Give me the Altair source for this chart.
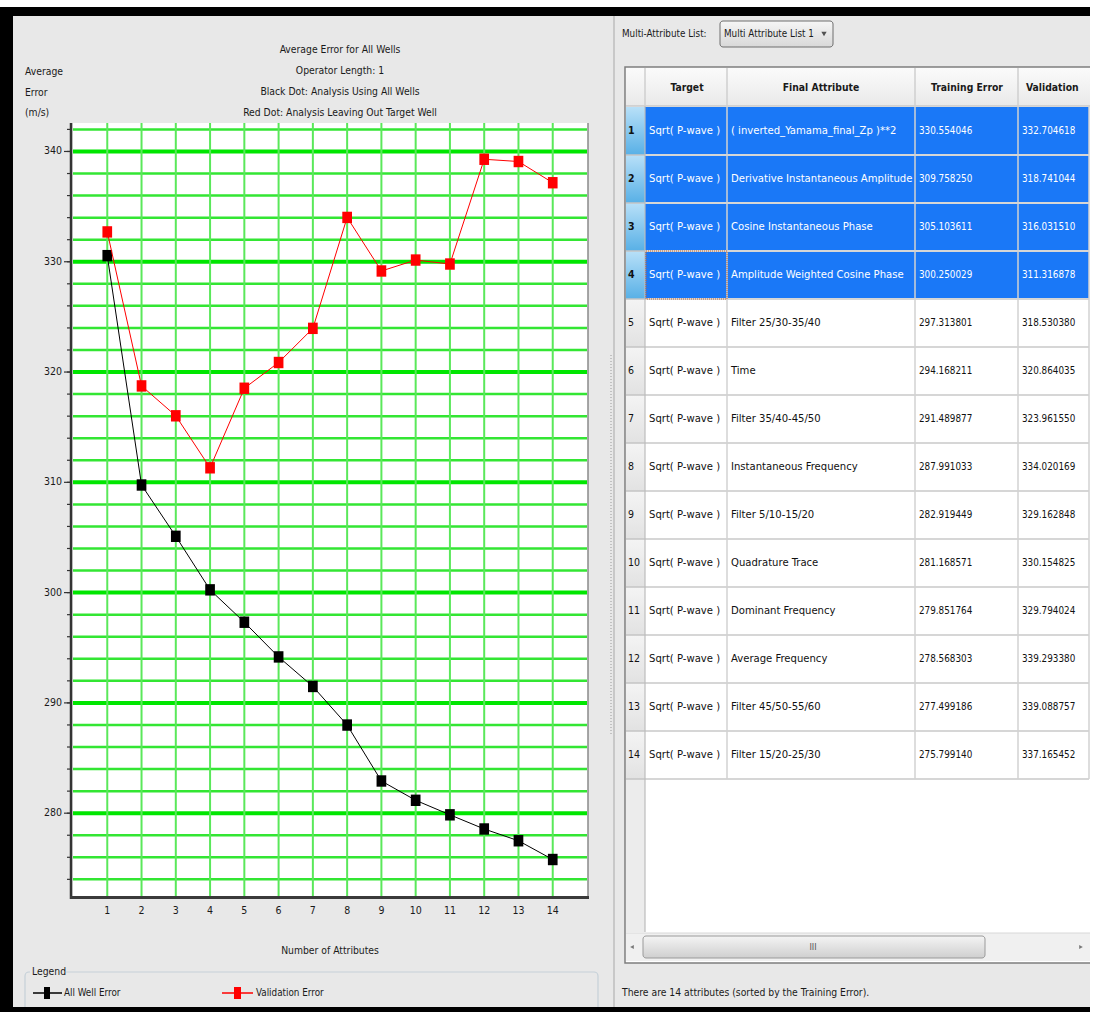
import altair as alt
import pandas as pd

# ---- data -------------------------------------------------------------
n_attributes = list(range(1, 15))
training_error = [330.554046, 309.758250, 305.103611, 300.250029, 297.313801,
                  294.168211, 291.489877, 287.991033, 282.919449, 281.168571,
                  279.851764, 278.568303, 277.499186, 275.799140]
validation_error = [332.704618, 318.741044, 316.031510, 311.316878, 318.530380,
                    320.864035, 323.961550, 334.020169, 329.162848, 330.154825,
                    329.794024, 339.293380, 339.088757, 337.165452]
target_names = ["Sqrt( P-wave )"] * 14
final_attributes = ["( inverted_Yamama_final_Zp )**2", "Derivative Instantaneous Amplitude",
                    "Cosine Instantaneous Phase", "Amplitude Weighted Cosine Phase",
                    "Filter 25/30-35/40", "Time", "Filter 35/40-45/50",
                    "Instantaneous Frequency", "Filter 5/10-15/20", "Quadrature Trace",
                    "Dominant Frequency", "Average Frequency", "Filter 45/50-55/60",
                    "Filter 15/20-25/30"]
selected_rows = [1, 2, 3, 4]
focused_row = 4
series_names = ["All Well Error", "Validation Error"]
header_labels = ["Target", "Final Attribute", "Training Error", "Validation"]
y_grid_values = list(range(274, 343, 2))
y_label_values = [280, 290, 300, 310, 320, 330, 340]
x_tick_values = list(range(1, 15))

plot_title = "Average Error for All Wells\nOperator Length: 1\nBlack Dot: Analysis Using All Wells\nRed Dot: Analysis Leaving Out Target Well"
y_title = "Average\nError\n(m/s)"

# ---- styling ------------------------------------------------------------
FONT = "DejaVu Sans Condensed, Liberation Sans Narrow, Liberation Sans, sans-serif"
PANEL = "#e8e8e8"
INK = "#1a1a1a"
SEL_BLUE = "#1a78f7"
SMALL = 10.3   # left-panel and status texts
CELL = 11.2    # table text cells
NUM = 9.8      # table numeric cells

X_PLOT = alt.Scale(domain=[0, 15], range=[73, 587], nice=False, zero=False)
Y_PLOT = alt.Scale(domain=[272.4, 342.4], range=[897, 125], nice=False, zero=False)
Y_ROW = alt.Scale(domain=[0.5, 14.5], range=[107, 779], nice=False, zero=False)

ONE = alt.Data(values=[{"k": 0}])


def box(x1, x2, y1, y2, fill="white", stroke=None, sw=0, r=0, fill_opacity=1, dash=None):
    kw = dict(fill=fill, strokeWidth=sw, cornerRadius=r, fillOpacity=fill_opacity)
    if stroke:
        kw["stroke"] = stroke
    if dash:
        kw["strokeDash"] = dash
    return alt.Chart(ONE).mark_rect(**kw).encode(
        x=alt.value(x1), x2=alt.value(x2), y=alt.value(y1), y2=alt.value(y2))


def hline(x1, x2, y, color, w=1, dash=None):
    kw = dict(color=color, strokeWidth=w)
    if dash:
        kw["strokeDash"] = dash
    return alt.Chart(ONE).mark_rule(**kw).encode(
        x=alt.value(x1), x2=alt.value(x2), y=alt.value(y))


def vline(x, y1, y2, color, w=1, dash=None):
    kw = dict(color=color, strokeWidth=w)
    if dash:
        kw["strokeDash"] = dash
    return alt.Chart(ONE).mark_rule(**kw).encode(
        x=alt.value(x), y=alt.value(y1), y2=alt.value(y2))


def label(text, x, y, size=SMALL, weight="normal", align="left", color=INK, line_height=None):
    kw = dict(text=text, align=align, baseline="middle", fontSize=size,
              fontWeight=weight, font=FONT, color=color)
    if line_height:
        kw["lineBreak"] = "\n"
        kw["lineHeight"] = line_height
    return alt.Chart(ONE).mark_text(**kw).encode(x=alt.value(x), y=alt.value(y))


def vgrad(top, bottom):
    return alt.Gradient(gradient="linear", x1=0, y1=0, x2=0, y2=1,
                        stops=[alt.GradientStop(color=top, offset=0),
                               alt.GradientStop(color=bottom, offset=1)])


layers = []

# ---- window frame -------------------------------------------------------
layers += [
    box(0, 1090, 7, 1012, fill="black"),
    box(13, 1090, 16, 1007, fill=PANEL),
    vline(614, 16, 1007, "#a8a8a8", 1),
    vline(611, 355, 735, "#9a9a9a", 1, dash=[1, 2]),
]

# ---- left: error plot ---------------------------------------------------
plot_df = pd.DataFrame({"n": n_attributes, "train": training_error, "valid": validation_error})
grid_df = pd.DataFrame({"v": y_grid_values})
ylab_df = pd.DataFrame({"v": y_label_values})
xtick_df = pd.DataFrame({"v": x_tick_values})

layers += [
    label(plot_title, 340, 50, align="center", line_height=21),
    label(y_title, 25, 72, line_height=20.5),
    box(73, 588, 123, 897, fill="white"),
    # horizontal grid
    alt.Chart(grid_df).transform_filter("datum.v % 10 != 0").mark_rule(
        color="#33e633", strokeWidth=2.5).encode(
        y=alt.Y("v:Q", scale=Y_PLOT, axis=None), x=alt.value(73), x2=alt.value(587)),
    alt.Chart(grid_df).transform_filter("datum.v % 10 == 0").mark_rule(
        color="#00e600", strokeWidth=4).encode(
        y=alt.Y("v:Q", scale=Y_PLOT, axis=None), x=alt.value(73), x2=alt.value(587)),
    # vertical grid
    alt.Chart(xtick_df).mark_rule(color="#5ae85a", strokeWidth=2).encode(
        x=alt.X("v:Q", scale=X_PLOT, axis=None), y=alt.value(123), y2=alt.value(896)),
    # y axis ticks and labels
    alt.Chart(grid_df).mark_rule(color="#333333", strokeWidth=1.2).encode(
        y=alt.Y("v:Q", scale=Y_PLOT, axis=None), x=alt.value(67), x2=alt.value(71)),
    alt.Chart(ylab_df).mark_rule(color="#333333", strokeWidth=1.2).encode(
        y=alt.Y("v:Q", scale=Y_PLOT, axis=None), x=alt.value(64), x2=alt.value(71)),
    alt.Chart(ylab_df).mark_text(align="right", baseline="middle", fontSize=10.5,
                                 font=FONT, color=INK).encode(
        y=alt.Y("v:Q", scale=Y_PLOT, axis=None), x=alt.value(62), text="v:Q"),
    # x tick labels
    alt.Chart(xtick_df).mark_text(align="center", baseline="middle", fontSize=10.5,
                                  font=FONT, color=INK).encode(
        x=alt.X("v:Q", scale=X_PLOT, axis=None), y=alt.value(911), text="v:Q"),
    # axis lines and border
    vline(588, 123, 897, "#8a8a8a", 1.5),
    vline(71, 123, 899, "#333333", 2.5),
    hline(70, 589, 897.5, "#3a3a3a", 3),
    label("Number of Attributes", 330, 951, align="center"),
]

# series
square = "M-0.85,-1H0.85V1H-0.85Z"
layers += [
    alt.Chart(plot_df).mark_line(color="black", strokeWidth=1).encode(
        x=alt.X("n:Q", scale=X_PLOT, axis=None), y=alt.Y("train:Q", scale=Y_PLOT, axis=None)),
    alt.Chart(plot_df).mark_point(shape=square, filled=True, size=130, color="black", opacity=1).encode(
        x=alt.X("n:Q", scale=X_PLOT, axis=None), y=alt.Y("train:Q", scale=Y_PLOT, axis=None)),
    alt.Chart(plot_df).mark_line(color="#ff0000", strokeWidth=1).encode(
        x=alt.X("n:Q", scale=X_PLOT, axis=None), y=alt.Y("valid:Q", scale=Y_PLOT, axis=None)),
    alt.Chart(plot_df).mark_point(shape=square, filled=True, size=130, color="#ff0000", opacity=1).encode(
        x=alt.X("n:Q", scale=X_PLOT, axis=None), y=alt.Y("valid:Q", scale=Y_PLOT, axis=None)),
]

# legend group
layers += [
    box(25, 598, 972, 1012, fill=PANEL, stroke="#c5d0d8", sw=1.2, r=4, fill_opacity=0),
    box(30, 66, 965, 979, fill=PANEL),
    label("Legend", 32, 972),
    hline(33, 62, 993, "black", 1.5),
    box(44, 50, 987, 999, fill="black"),
    label(series_names[0], 64, 993, size=9.8),
    hline(222, 253, 993, "#ff0000", 1.5),
    box(234, 241, 987, 999, fill="#ff0000"),
    label(series_names[1], 256, 993, size=9.8),
]

# ---- right: attribute table ---------------------------------------------
table_df = pd.DataFrame({"row": n_attributes, "target": target_names, "attr": final_attributes,
                         "train": training_error, "valid": validation_error})
table_df["selected"] = table_df["row"].isin(selected_rows)
table_df["lo"] = table_df["row"] - 0.5
table_df["hi"] = table_df["row"] + 0.5
sel = "datum.selected"
unsel = "!datum.selected"

layers += [
    label("Multi-Attribute List:", 622, 34, size=9.8),
    box(720, 833, 21, 47, fill=vgrad("#f6f6f6", "#d8d8d8"), stroke="#6e6e6e", sw=1, r=3),
    label("Multi Attribute List 1", 724, 34, size=9.8),
    alt.Chart(ONE).mark_point(shape="triangle-down", filled=True, size=28, color="#111").encode(
        x=alt.value(824), y=alt.value(34)),
    # table frame & header
    box(625, 1096, 67, 963, fill="white", stroke="#7e7e7e", sw=1.5),
    box(626, 1090, 68, 106, fill=vgrad("#fbfbfb", "#e9e9e9")),
    hline(626, 1090, 106, "#c8c8c8", 1.5),
]
for x in [645, 727, 915, 1018]:
    layers.append(vline(x, 68, 106, "#cfcfcf", 1.5))
header_x = [687, 821, 967, 1026]
header_align = ["center", "center", "center", "left"]
for text, x, a in zip(header_labels, header_x, header_align):
    layers.append(label(text, x, 88, size=10.3, weight="bold", align=a))

row_y = dict(y=alt.Y("lo:Q", scale=Y_ROW, axis=None), y2="hi:Q")
layers += [
    # row backgrounds
    alt.Chart(table_df).transform_filter(sel).mark_rect(fill=SEL_BLUE).encode(
        x=alt.value(645), x2=alt.value(1089), **row_y),
    alt.Chart(table_df).transform_filter(sel).mark_rect(fill=vgrad("#b8e0f8", "#58b0e6")).encode(
        x=alt.value(626), x2=alt.value(645), **row_y),
    alt.Chart(table_df).transform_filter(unsel).mark_rect(fill=vgrad("#f4f4f4", "#e2e2e2")).encode(
        x=alt.value(626), x2=alt.value(645), **row_y),
    box(626, 645, 779, 932, fill="#ececec"),
    # row separators
    alt.Chart(table_df).mark_rule(color="#d6d6d6", strokeWidth=2).encode(
        y=alt.Y("hi:Q", scale=Y_ROW, axis=None), x=alt.value(645), x2=alt.value(1089)),
    alt.Chart(table_df).mark_rule(color="#c4c4c4", strokeWidth=1.5).encode(
        y=alt.Y("hi:Q", scale=Y_ROW, axis=None), x=alt.value(626), x2=alt.value(645)),
    vline(645, 106, 932, "#bdbdbd", 1.2),
    vline(1089, 106, 779, "#d2d2d2", 1.5),
]
for x in [727, 915, 1018]:
    layers.append(vline(x, 106, 779, "#d2d2d2", 1.5))

# focus outline on the current cell
layers.append(
    alt.Chart(table_df).transform_filter(f"datum.row == {focused_row}").mark_rect(
        fillOpacity=0, stroke="#c8642a", strokeWidth=1, strokeDash=[1, 1]).encode(
        x=alt.value(646), x2=alt.value(727), **row_y))

cell_y = dict(y=alt.Y("row:Q", scale=Y_ROW, axis=None))
text_kw = dict(align="left", baseline="middle", font=FONT)
layers += [
    alt.Chart(table_df).transform_filter(sel).mark_text(fontWeight="bold", fontSize=10.5,
                                                        color="#111", **text_kw).encode(
        x=alt.value(628), text="row:Q", **cell_y),
    alt.Chart(table_df).transform_filter(unsel).mark_text(fontSize=10.5, color="#111", **text_kw).encode(
        x=alt.value(628), text="row:Q", **cell_y),
]
for field, x, fmt, size in [("target", 649, None, CELL), ("attr", 731, None, CELL),
                            ("train", 919, ".6f", NUM), ("valid", 1022, ".6f", NUM)]:
    enc = alt.Text(f"{field}:Q", format=fmt) if fmt else alt.Text(f"{field}:N")
    for flt, col in [(sel, "white"), (unsel, "#111")]:
        layers.append(
            alt.Chart(table_df).transform_filter(flt).mark_text(color=col, fontSize=size, **text_kw).encode(
                x=alt.value(x), text=enc, **cell_y))

# horizontal scrollbar
layers += [
    box(626, 1090, 933, 961, fill="#f0f0f0"),
    hline(626, 1090, 933, "#d8d8d8", 1),
    alt.Chart(ONE).mark_point(shape="triangle-left", filled=True, size=18, color="#444").encode(
        x=alt.value(632), y=alt.value(947)),
    alt.Chart(ONE).mark_point(shape="triangle-right", filled=True, size=18, color="#444").encode(
        x=alt.value(1081), y=alt.value(947)),
    box(643, 985, 936, 958, fill=vgrad("#f4f4f4", "#cfcfcf"), stroke="#9a9a9a", sw=1, r=3),
    label("III", 813, 947, size=9, align="center", color="#555"),
    label("There are 14 attributes (sorted by the Training Error).", 622, 993),
    # window edge
    box(0, 1090, 1007, 1012, fill="black"),
    box(1090, 1095, 0, 1012, fill="white"),
]

chart = alt.layer(*layers).resolve_scale(
    x="independent", y="independent"
).properties(
    width=1095, height=1012, padding=0,
    autosize=alt.AutoSizeParams(type="none"), background="white"
).configure_view(stroke=None)

chart.save("out.html", embed_options={"renderer": "svg", "actions": False})
